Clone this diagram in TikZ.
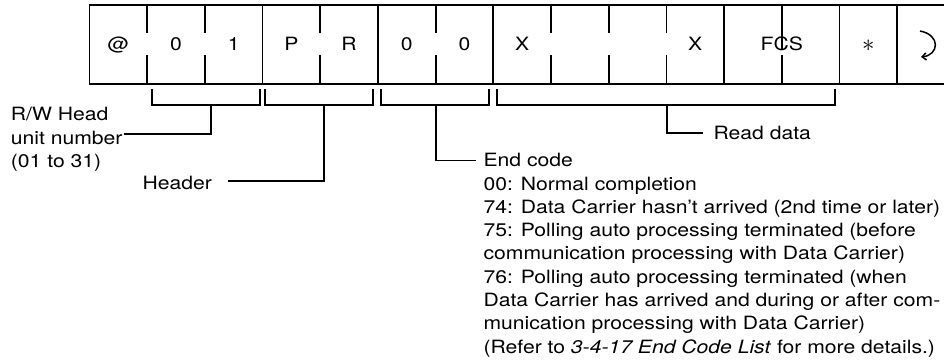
\documentclass[tikz,border=0pt]{standalone}
\usepackage{fontspec}
\setmainfont{TeX Gyre Heros}[FakeStretch=1.155]
\usetikzlibrary{arrows.meta}
\begin{document}
\begin{tikzpicture}[x=1pt,y=-1pt,line width=1.8pt,
  celltxt/.style={font=\fontsize{18.3}{22}\selectfont, anchor=base, inner sep=0pt},
  lbl/.style={font=\fontsize{18.3}{23.3}\selectfont, anchor=base west, inner sep=0pt},
  rule/.style={line width=1.8pt}]
\useasboundingbox (0,0) rectangle (944,360);
\clip (0,0) rectangle (944,360);
\def\xo{89.4}\def\cw{57.7}
% frame
\draw[rule] (\xo,4.7) rectangle ({\xo+15*\cw},84);
\foreach \i in {3,5,7,11,13,14}
  \draw[rule] ({\xo+\cw*\i},4.7) -- ({\xo+\cw*\i},84);
\foreach \i in {1,2,4,6,8,9,10}{
  \draw[rule] ({\xo+\cw*\i},4.7) -- ({\xo+\cw*\i},33);
  \draw[rule] ({\xo+\cw*\i},55) -- ({\xo+\cw*\i},84);}
\draw[rule] ({\xo+\cw*12},4.7) -- ({\xo+\cw*12},49);
\draw[rule] ({\xo+\cw*12},55) -- ({\xo+\cw*12},84);
% cell texts
\node[celltxt] (c0) at ({\xo+\cw*0.5},50) {@};
\node[celltxt] (c1) at ({\xo+\cw*1.5},50) {0};
\node[celltxt] (c2) at ({\xo+\cw*2.5},50) {1};
\node[celltxt] (c3) at ({\xo+\cw*3.5},50) {P};
\node[celltxt] (c4) at ({\xo+\cw*4.5},50) {R};
\node[celltxt] (c5) at ({\xo+\cw*5.5},50) {0};
\node[celltxt] (c6) at ({\xo+\cw*6.5},50) {0};
\node[celltxt] (c7) at ({\xo+\cw*7.5},50) {X};
\node[celltxt] (c10) at ({\xo+\cw*10.5},50) {X};
\node[celltxt] (fcs) at ({\xo+\cw*12},50) {FCS};
\node[celltxt,font=\fontsize{28}{30}\selectfont] (ast) at ({\xo+\cw*13.5},51) {$\ast$};
% return symbol
\draw[line width=1.5pt,-{Straight Barb[length=4pt,width=7pt]}] (920,31) .. controls (941,35) and (939,55) .. (921,57);
% brackets
\draw[rule] (151.7,89.3) |- (260,105) -- (260,89.3);
\draw[rule] (265,89.3) |- (373.3,105) -- (373.3,89.3);
\draw[rule] (381,89.3) |- (489,105) -- (489,89.3);
\draw[rule] (496.7,89.3) |- (835,105) -- (835,89.3);
\coordinate (s1) at (210.7,105);
\coordinate (s2) at (324,105);
\coordinate (s3) at (435.7,105);
\coordinate (s4) at (666.7,105);
% labels
\node[lbl] (unit1) at (10,120.7) {R/W Head};
\node[lbl] (unit2) at (10,144.0) {unit number};
\node[lbl] (unit3) at (10,167.3) {(01 to 31)};
\node[lbl] (hdr) at (141.7,189) {Header};
\node[lbl] (rd) at (712.7,139.3) {Read data};
\node[lbl] (ec0) at (482.7,166.7) {End code};
\node[lbl] (ec1) at (482.7,190.0) {00: Normal completion};
\node[lbl] (ec2) at (482.7,213.3) {74: Data Carrier hasn’t arrived (2nd time or later)};
\node[lbl] (ec3) at (482.7,236.6) {75: Polling auto processing terminated (before};
\node[lbl] (ec4) at (482.7,259.9) {communication processing with Data Carrier)};
\node[lbl] (ec5) at (482.7,283.2) {76: Polling auto processing terminated (when};
\node[lbl] (ec6) at (482.7,306.5) {Data Carrier has arrived and during or after com-};
\node[lbl] (ec7) at (482.7,329.8) {munication processing with Data Carrier)};
\node[lbl] (ec8) at (482.7,353.1) {(Refer to \textit{3-4-17 End Code List} for more details.)};
\coordinate (e1) at (124,134);
\coordinate (e2) at (227.7,180.7);
\coordinate (e3) at (476,160.5);
\coordinate (e4) at (703.3,133);
\draw[rule] (s1) |- (e1);
\draw[rule] (s2) |- (e2);
\draw[rule] (s3) |- (e3);
\draw[rule] (s4) |- (e4);
\end{tikzpicture}
\end{document}
